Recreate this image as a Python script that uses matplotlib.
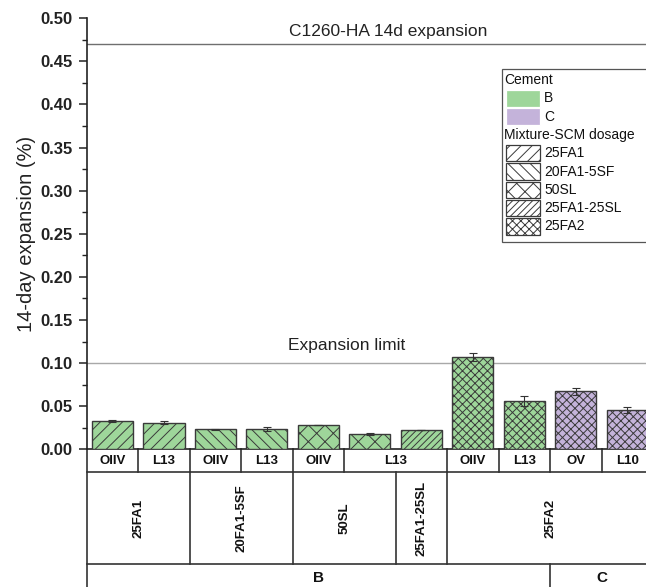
import matplotlib
matplotlib.use("Agg")
import matplotlib.pyplot as plt
from matplotlib.patches import Rectangle
from matplotlib.ticker import MultipleLocator

plt.rcParams['font.family'] = ['Liberation Sans', 'DejaVu Sans']
plt.rcParams['hatch.linewidth'] = 0.7

# ---- data -------------------------------------------------------------
aggregates = ["OIIV", "L13", "OIIV", "L13", "OIIV", "L13", "L13",
              "OIIV", "L13", "OV", "L10"]
mixtures = ["25FA1", "25FA1", "20FA1-5SF", "20FA1-5SF", "50SL", "50SL",
            "25FA1-25SL", "25FA2", "25FA2", "25FA2", "25FA2"]
cements = ["B", "B", "B", "B", "B", "B", "B", "B", "B", "C", "C"]
expansion = [0.0332, 0.0309, 0.0232, 0.0235, 0.0282, 0.0181, 0.0224,
             0.107, 0.056, 0.0673, 0.0452]
expansion_err = [0.0012, 0.0020, 0.0003, 0.0020, 0.0005, 0.0010, 0.0003,
                 0.0050, 0.0063, 0.0038, 0.0035]
expansion_limit = 0.10
c1260_limit = 0.47

cement_colors = {"B": "#9ED69A", "C": "#C4B3DA"}
mixture_hatches = {"25FA1": "///", "20FA1-5SF": "\\\\\\", "50SL": "xx",
                   "25FA1-25SL": "/////", "25FA2": "xxxx"}

# ---- figure -----------------------------------------------------------
W, H = 646, 587
fig = plt.figure(figsize=(W / 100, H / 100), dpi=100)

def fx(px):
    return px / W

def fy(py):
    return 1 - py / H

ax_left, ax_right, ax_top, ax_bottom = 86.7, 653.0, 18.3, 449.3
ax = fig.add_axes([fx(ax_left), fy(ax_bottom),
                   fx(ax_right) - fx(ax_left), fy(ax_top) - fy(ax_bottom)])

edge = "#3a3a3a"
x = list(range(1, len(expansion) + 1))
for xi, v, e, cem, mix in zip(x, expansion, expansion_err, cements, mixtures):
    ax.bar(xi, v, width=0.8, color=cement_colors[cem], edgecolor=edge,
           linewidth=1.0, hatch=mixture_hatches[mix], zorder=3)
    ax.errorbar(xi, v, yerr=e, fmt="none", ecolor="#333333",
                elinewidth=0.8, capsize=3, capthick=0.8, zorder=4)

ax.set_xlim(0.5, len(expansion) + 0.5)
ax.set_ylim(0, 0.5)

# reference limits
ax.axhline(c1260_limit, color="#6f6f6f", lw=1.0, zorder=1)
ax.axhline(expansion_limit, color="#a8a8a8", lw=1.0, zorder=1)
ax.text(6.35, 0.485, "C1260-HA 14d expansion", ha="center", va="center",
        fontsize=12.5, color="#222222")
ax.text(5.55, 0.12, "Expansion limit", ha="center", va="center",
        fontsize=12.5, color="#222222")

# axes styling
for s in ("top", "right"):
    ax.spines[s].set_visible(False)
for s in ("left", "bottom"):
    ax.spines[s].set_linewidth(1.2)
    ax.spines[s].set_color("#222222")
ax.yaxis.set_major_locator(MultipleLocator(0.05))
ax.yaxis.set_minor_locator(MultipleLocator(0.025))
ax.tick_params(axis="y", which="major", direction="out", length=6,
               width=1.1, pad=4, labelsize=12, colors="#222222")
ax.tick_params(axis="y", which="minor", direction="out", length=3.5,
               width=1.0, colors="#222222")
for lab in ax.get_yticklabels():
    lab.set_fontweight("bold")
ax.yaxis.set_major_formatter(plt.FuncFormatter(lambda v, p: f"{v:.2f}"))
ax.set_xticks([])
ax.set_ylabel("14-day expansion (%)", fontsize=14.5, color="#222222")
ax.yaxis.set_label_coords(-0.089, 0.5)

# ---- category table under the bars -----------------------------------
tr = ax.get_xaxis_transform()
r1 = (ax_bottom - 472.0) / (ax_bottom - ax_top)
r2 = (ax_bottom - 564.3) / (ax_bottom - ax_top)
rb = (ax_bottom - 600.0) / (ax_bottom - ax_top)
lc, lw = "#333333", 1.2
x0, x1 = 0.5, len(expansion) + 0.5

def groups(labels):
    out, start = [], 0
    for i in range(1, len(labels) + 1):
        if i == len(labels) or labels[i] != labels[start]:
            out.append((labels[start], start + 1, i))
            start = i
    return out

def hline(y):
    ax.plot([x0, x1], [y, y], transform=tr, color=lc, lw=lw, clip_on=False)

def vline(xv, ya, yb):
    ax.plot([xv, xv], [ya, yb], transform=tr, color=lc, lw=lw, clip_on=False)

hline(r1)
hline(r2)
vline(x0, 0, rb)

# aggregate row: adjacent L13 bars of 50SL and 25FA1-25SL share one cell
agg_cells = [("OIIV", 1, 1), ("L13", 2, 2), ("OIIV", 3, 3), ("L13", 4, 4),
             ("OIIV", 5, 5), ("L13", 6, 7), ("OIIV", 8, 8), ("L13", 9, 9),
             ("OV", 10, 10), ("L10", 11, 11)]
for lab, a, b in agg_cells:
    ax.text((a + b) / 2, (0 + r1) / 2, lab, transform=tr, ha="center",
            va="center", fontsize=9.5, fontweight="bold", color="#111111")
    if b < len(expansion):
        vline(b + 0.5, 0, r1)

for lab, a, b in groups(mixtures):
    ax.text((a + b) / 2, (r1 + r2) / 2, lab, transform=tr, ha="center",
            va="center", rotation=90, fontsize=9.5, fontweight="bold",
            color="#111111")
    if b < len(expansion):
        vline(b + 0.5, r1, r2)

for lab, a, b in groups(cements):
    ax.text((a + b) / 2, r2 - 0.032, lab, transform=tr,
            ha="center", va="center", fontsize=11, fontweight="bold",
            color="#111111")
    if b < len(expansion):
        vline(b + 0.5, r2, rb)

# ---- legend -----------------------------------------------------------
leg_left, leg_top, leg_bottom = 502.3, 69.0, 241.7
fig.add_artist(Rectangle((fx(leg_left), fy(leg_bottom)),
                         fx(700) - fx(leg_left), fy(leg_top) - fy(leg_bottom),
                         transform=fig.transFigure, facecolor="white",
                         edgecolor="#555555", lw=0.9, zorder=5))
row_h = 18.3
y_rows = [80.0 + i * row_h for i in range(9)]
hx0, hx1, tx = 506.5, 540.0, 544.0
hh = 16.5

def handle(yc, face, hatch=None):
    fig.add_artist(Rectangle((fx(hx0), fy(yc + hh / 2)),
                             fx(hx1) - fx(hx0), hh / H,
                             transform=fig.transFigure, facecolor=face,
                             edgecolor=edge if hatch else "white",
                             lw=0.9, hatch=hatch, zorder=6))

def label(xp, yc, s):
    fig.text(fx(xp), fy(yc), s, ha="left", va="center", fontsize=10,
             color="#111111", zorder=7)

label(504.5, y_rows[0], "Cement")
for i, cem in enumerate(["B", "C"]):
    handle(y_rows[1 + i], cement_colors[cem])
    label(tx, y_rows[1 + i], cem)
label(503.5, y_rows[3], "Mixture-SCM dosage")
for i, mix in enumerate(["25FA1", "20FA1-5SF", "50SL", "25FA1-25SL", "25FA2"]):
    handle(y_rows[4 + i], "white", mixture_hatches[mix])
    label(tx, y_rows[4 + i], mix)

fig.savefig("out.png", dpi=100)
